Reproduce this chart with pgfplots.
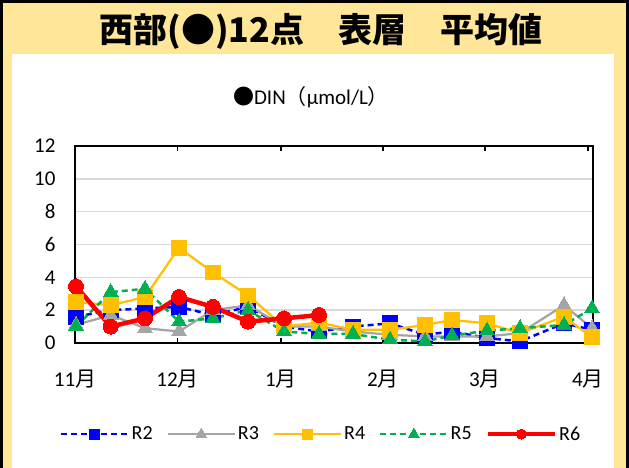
\documentclass[border=0pt]{standalone}
\usepackage{pgfplots}
\pgfplotsset{compat=1.18}
\usepackage{pgfplotstable}
\usepackage{fontspec}
\setmainfont{Carlito}
\newfontfamily\cjk{Noto Sans CJK JP}
\definecolor{bgY}{HTML}{FFE699}
\definecolor{gridc}{HTML}{D9D9D9}
\definecolor{cRtwo}{HTML}{0000FF}
\definecolor{cRthree}{HTML}{A5A5A5}
\definecolor{cRfour}{HTML}{FFC000}
\definecolor{cRfive}{HTML}{00B050}
\definecolor{cRsix}{HTML}{FF0000}

\pgfplotstableread{
x     R2   R3   R4    R5
76    1.6  1.1  2.5   1.0
110.7 2.0  1.7  2.3   3.1
145   2.1  0.9  2.8   3.3
179   2.2  0.7  5.8   1.3
213   1.7  2.0  4.3   1.5
248   2.2  2.3  2.9   2.0
284   1.0  1.0  1.0   0.7
319   0.7  1.0  1.25  0.55
353   1.0  0.7  0.8   0.55
390   1.2  0.5  0.8   0.2
425   0.5  0.4  1.1   0.1
452   0.7  0.4  1.4   0.45
487   0.3  0.4  1.2   0.75
520   0.1  0.6  0.6   0.9
564   1.2  2.3  1.6   1.1
592   0.8  0.9  0.35  2.1
}\dataA

\pgfplotstableread{
x     R6
76    3.45
110.7 1.0
145   1.5
179   2.8
213   2.2
248   1.3
284   1.5
319   1.7
}\dataB

\begin{document}
\begin{tikzpicture}
\useasboundingbox (0,0) rectangle (629pt,468pt);
\fill[bgY] (0,0) rectangle (629pt,468pt);
\fill[white] (12pt,0) rectangle (614pt,414pt);
\draw[line width=3pt] (1.5pt,0) -- (1.5pt,466.5pt) -- (627.5pt,466.5pt) -- (627.5pt,0);
\node at (321pt,437pt) {\fontsize{34pt}{37pt}\selectfont\cjk\bfseries 西部(●)12点　表層　平均値};
\node at (311pt,371pt) {\fontsize{21pt}{24pt}\selectfont{\cjk ●}DIN{\cjk （}µmol/L{\cjk ）}};
\begin{axis}[
  scale only axis, width=518pt, height=197pt,
  at={(75pt,125pt)}, anchor=south west,
  xmin=75, xmax=593, ymin=0, ymax=12,
  xtick={75,177.5,281,383,485,588},
  xticklabels={11{\cjk 月},12{\cjk 月},1{\cjk 月},2{\cjk 月},3{\cjk 月},4{\cjk 月}},
  ytick={0,2,...,12},
  ymajorgrids, grid style={gridc, line width=1.5pt},
  axis line style={line width=2pt, black},
  tick align=inside, major tick length=5pt,
  xtick style={black, line width=1.5pt},
  ytick style={draw=none},
  tick label style={font=\fontsize{21pt}{24pt}\selectfont},
  /pgf/number format/assume math mode=true,
  yticklabel style={xshift=-16pt},
  xticklabel style={yshift=-23pt},
  clip=false,
  legend columns=5,
  legend style={at={(axis description cs:-0.029,-0.462)}, anchor=west, draw=none, fill=none,
    font=\fontsize{20pt}{24pt}\selectfont, inner xsep=0pt,
    /tikz/every even column/.append style={column sep=12pt}},
  legend image code/.code={\draw[mark repeat=2,mark phase=2,#1] plot coordinates {(0pt,0pt) (33.5pt,0pt) (67pt,0pt)};},
]
\addplot[cRtwo, line width=2.5pt, dash pattern=on 6pt off 4pt, mark=square*, mark size=7.3pt, mark options={solid, fill=cRtwo, draw=cRtwo, line width=0pt}, legend image post style={mark size=5pt}] table[x=x,y=R2] {\dataA};
\addlegendentry{R2}
\addplot[cRthree, line width=2.25pt, mark=triangle*, mark size=8.5pt, mark options={solid, fill=cRthree, draw=cRthree, line width=0pt}, legend image post style={mark size=6pt}] table[x=x,y=R3] {\dataA};
\addlegendentry{R3}
\addplot[cRfour, line width=2.25pt, mark=square*, mark size=7.3pt, mark options={solid, fill=cRfour, draw=cRfour, line width=0pt}, legend image post style={mark size=5pt}] table[x=x,y=R4] {\dataA};
\addlegendentry{R4}
\addplot[cRfive, line width=2.5pt, dash pattern=on 6pt off 4pt, mark=triangle*, mark size=8.5pt, mark options={solid, fill=cRfive, draw=cRfive, line width=0pt}, legend image post style={mark size=6pt}] table[x=x,y=R5] {\dataA};
\addlegendentry{R5}
\addplot[cRsix, line width=4.5pt, mark=*, mark size=7.5pt, mark options={solid, fill=cRsix, draw=cRsix, line width=0pt}, legend image post style={mark size=5pt}] table[x=x,y=R6] {\dataB};
\addlegendentry{R6}
\end{axis}
\end{tikzpicture}
\end{document}
